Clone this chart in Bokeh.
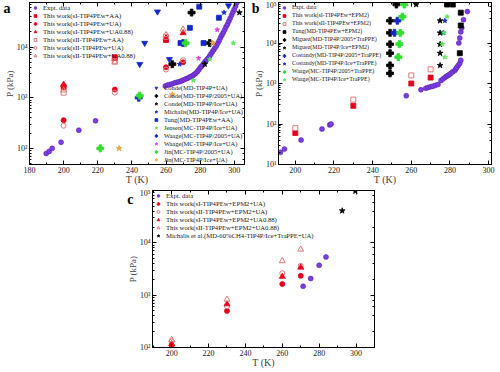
from bokeh.plotting import figure
from bokeh.models import (Legend, LegendItem, LogAxis, LinearAxis, FixedTicker, CustomJSTickFormatter,
                          Range1d, Spacer, SingleIntervalTicker)
from bokeh.layouts import row, column
from bokeh.embed import file_html
from bokeh.resources import INLINE

FONT = "Liberation Serif"

# ---------------- Panel a data ----------------
a_expt_T = [189.8, 191.5, 193.3, 198.5, 208.9, 218.7,
            259.6, 261.0, 262.3, 263.5, 264.8, 266.0, 267.2, 268.4, 269.5, 270.6, 271.7, 272.7,
            273.7, 274.7, 275.7, 276.6, 277.5, 278.4, 279.2, 280.0, 280.8, 281.6, 282.4, 283.2,
            284.0, 284.8, 285.6, 286.4, 287.2, 288.0, 288.8, 289.6, 290.4, 291.2, 292.0, 292.8,
            293.6, 294.4, 295.2, 296.0, 296.8, 297.6, 298.4, 299.2, 300.0, 300.8, 301.6]
a_expt_P = [79, 87, 100, 132, 229, 350,
            1700, 1780, 1820, 1870, 1950, 2000, 2050, 2100, 2200, 2260, 2360, 2430,
            2550, 2630, 2750, 2900, 3050, 3300, 3550, 3900, 4200, 4500, 4950, 5300,
            5700, 6100, 6700, 7350, 8100, 8900, 9770, 10700, 12000, 13500, 15500, 17400,
            19500, 21900, 25100, 28200, 32400, 37200, 42700, 49000, 56200, 64600, 75900]

a_sI_AA_T = [200, 230, 260]
a_sI_AA_P = [1620, 6300, 13800]
a_sI_UA_T = [200, 230, 260, 270]
a_sI_UA_P = [360, 1450, 4000, 5000]
a_sI_UA088_T = [200, 230, 260, 270]
a_sI_UA088_P = [1820, 5900, 15100, 19000]
a_sII_AA_T = [200, 230, 260]
a_sII_AA_P = [1260, 5250, 16000]
a_sII_UA_T = [200, 230, 260, 270]
a_sII_UA_P = [280, 1260, 3600, 5500]
a_sII_UA088_T = [200, 230, 260, 270]
a_sII_UA088_P = [1400, 5000, 17400, 22500]

a_conde_T = [255.0, 247.5, 244.6, 262.0, 296.6]
a_conde_P = [50000, 12000, 4600, 5750, 66000]
a_conde2005_T = [275.0, 263.7, 285.6]
a_conde2005_P = [48000, 4600, 12000]
a_condeIce_T = [282.7, 303.0]
a_condeIce_P = [4600, 48000]
a_michalis_T = [268.0, 294.0]
a_michalis_P = [4600, 48000]
a_tung_T = [279.5, 274.0, 268.5, 282.0, 291.0]
a_tung_P = [63000, 24000, 12000, 12000, 38000]
a_jensen_T = [276.0, 285.7, 299.4]
a_jensen_P = [2200, 5750, 12000]
a_waage2005_T = [270.0, 244.0]
a_waage2005_P = [12000, 1000]
a_waageIce_T = [290.0, 279.0]
a_waageIce_P = [22000, 6000]
a_jin2005_T = [221.5, 244.6, 271.5]
a_jin2005_P = [100, 1100, 12000]
a_jinIce_T = [287.3, 263.7, 232.5]
a_jinIce_P = [12000, 1150, 100]

# ---------------- Panel b data ----------------
b_expt_T = [192.3, 194.4, 203.0, 213.8, 217.8, 218.5,
            257.4, 265.0, 267.5, 268.7, 270.0, 271.2, 272.5, 273.8, 275.4, 276.4, 277.4, 278.2,
            279.0, 279.8, 280.5, 281.5, 282.6, 283.1, 283.6, 284.3, 285.1, 285.6,
            284.6, 285.1, 285.6, 286.1, 287.0, 289.0]
b_expt_P = [20, 24, 40, 75, 95, 100,
            500, 700, 760, 800, 830, 860, 900, 940, 1190, 1300, 1410, 1500,
            1580, 1680, 1780, 1950, 2110, 2300, 2510, 2800, 3160, 3760,
            10000, 13300, 18800, 23700, 37600, 59600]
b_sI_T = [200, 230, 260, 270]
b_sI_P = [60, 282, 1000, 1400]
b_sII_T = [200, 230, 260, 270]
b_sII_P = [79, 400, 1580, 2240]
b_tung_T = [285.6, 285.6, 285.1, 278.5, 281.5]
b_tung_P = [56000, 27000, 5600, 89000, 89000]
b_miguez2005_T = [249.0, 249.0, 249.0, 249.0, 249.0, 249.0, 252.3]
b_miguez2005_P = [35500, 17800, 9300, 5600, 2800, 1780, 89000]
b_miguezIce_T = [274.9, 274.9, 274.9, 274.9, 274.9, 262.5]
b_miguezIce_P = [35500, 17800, 9300, 5600, 2800, 89000]
b_costandy2005_T = [252.8, 251.3]
b_costandy2005_P = [35500, 17800]
b_costandyIce_T = [277.4, 276.5]
b_costandyIce_P = [35500, 17800]
b_waage2005_T = [255.4, 254.3, 253.8, 253.3, 256.4]
b_waage2005_P = [44700, 17800, 9400, 4470, 89000]
b_waageIce_T = [278.5, 277.0, 276.0, 277.4]
b_waageIce_P = [44700, 17800, 9400, 4470]

# ---------------- Panel c data ----------------
c_expt_T = [271.3, 275.4, 280.0, 283.7]
c_expt_P = [1480, 2080, 3720, 5370]
c_sI_UA_T = [200, 230, 260, 270]
c_sI_UA_P = [110, 500, 1630, 2340]
c_sII_UA_T = [200, 230, 260, 270]
c_sII_UA_P = [131, 615, 2630, 3630]
c_sI_UA088_T = [200, 230, 260, 270]
c_sI_UA088_P = [117, 675, 2260, 3390]
c_sII_UA088_T = [200, 230, 260, 270]
c_sII_UA088_P = [141, 830, 4500, 7500]
c_michalis_T = [292.5, 299.6]
c_michalis_P = [41000, 97000]

RED = "#E3001B"
PINK = "#E07878"
PURPLE = "#7E3CE6"
PURPLE_D = "#4B1C9A"
BLUE = "#1428C8"
GREEN = "#2EE02E"
LGREEN = "#5CE65C"
MAGENTA = "#E03CE0"
ORANGE = "#F2A040"

SUP_CODE = """
const e = Math.round(Math.log10(tick));
const sup = {"0":"\\u2070","1":"\\u00b9","2":"\\u00b2","3":"\\u00b3","4":"\\u2074","5":"\\u2075","6":"\\u2076","7":"\\u2077","8":"\\u2078","9":"\\u2079","-":"\\u207b"};
return "10" + String(e).split("").map(c => sup[c]).join("");
"""


def style_axis(ax, label_size, label_standoff):
    ax.major_tick_in = 4
    ax.major_tick_out = 0
    ax.minor_tick_in = 2
    ax.minor_tick_out = 0
    ax.axis_line_color = "black"
    ax.major_tick_line_color = "black"
    ax.minor_tick_line_color = "black"
    ax.major_label_text_font = FONT
    ax.major_label_text_font_size = "8px"
    ax.major_label_text_color = "#222222"
    ax.major_label_standoff = 2
    ax.axis_label_text_font = FONT
    ax.axis_label_text_font_style = "normal"
    ax.axis_label_text_font_size = label_size
    ax.axis_label_standoff = label_standoff


def mirror_axis(ax):
    ax.major_tick_in = 4
    ax.major_tick_out = 0
    ax.minor_tick_in = 2
    ax.minor_tick_out = 0
    ax.axis_line_color = "black"
    ax.major_tick_line_color = "black"
    ax.minor_tick_line_color = "black"
    ax.major_label_standoff = 0
    ax.major_label_text_font_size = "1px"


def make_fig(width, height, xr, yr, mbl, mbr, mbt, mbb, letter, letter_at):
    p = figure(width=width, height=height, x_range=Range1d(*xr), y_range=Range1d(*yr),
               y_axis_type="log", output_backend="svg", toolbar_location=None,
               min_border_left=mbl, min_border_right=mbr, min_border_top=mbt, min_border_bottom=mbb)
    p.grid.visible = False
    p.outline_line_color = "black"
    p.outline_line_width = 1
    p.xaxis.ticker = SingleIntervalTicker(interval=20, num_minor_ticks=2)
    p.yaxis.formatter = CustomJSTickFormatter(code=SUP_CODE)
    p.xaxis.axis_label = "T (K)"
    p.yaxis.axis_label = "P (kPa)"
    for ax in p.xaxis:
        style_axis(ax, "10px", -2)
    for ax in p.yaxis:
        style_axis(ax, "9px", -1)
    # inward ticks on the top and right sides of the box, without labels
    top = LinearAxis(ticker=SingleIntervalTicker(interval=20, num_minor_ticks=2),
                     formatter=CustomJSTickFormatter(code="return '';"))
    mirror_axis(top)
    p.add_layout(top, "above")
    right = LogAxis(formatter=CustomJSTickFormatter(code="return '';"))
    mirror_axis(right)
    p.add_layout(right, "right")
    # panel letter drawn as the single label of an outer, line-less axis
    lax = LogAxis(ticker=FixedTicker(ticks=[letter_at], minor_ticks=[]),
                  formatter=CustomJSTickFormatter(code="return '%s';" % letter))
    lax.axis_line_color = None
    lax.major_tick_line_color = None
    lax.minor_tick_line_color = None
    lax.major_tick_in = 0
    lax.major_tick_out = 0
    lax.minor_tick_in = 0
    lax.minor_tick_out = 0
    lax.major_label_standoff = -9
    lax.major_label_text_font = FONT
    lax.major_label_text_font_style = "bold"
    lax.major_label_text_font_size = "14px"
    lax.major_label_text_color = "black"
    p.add_layout(lax, "left")
    return p


def sc(p, x, y, marker, size, fill, line, lw=0.8, falpha=1.0):
    return p.scatter(x, y, marker=marker, size=size, fill_color=fill, line_color=line,
                     line_width=lw, fill_alpha=falpha)


def legend(p, items, loc, fs):
    lg = Legend(items=[LegendItem(label=t, renderers=[r]) for t, r in items], location=loc,
                label_text_font=FONT, label_text_font_size=fs, label_text_color="#222222",
                glyph_width=10, glyph_height=7, label_height=8, spacing=0, padding=1,
                margin=1, label_standoff=3, border_line_color=None, background_fill_alpha=0)
    p.add_layout(lg, "center")


# ---------------- Panel a ----------------
pa = make_fig(248, 188, (180, 306), (48, 76000), 24, 4, 2, 24, "a", 60000)
ra = [
    ("Expt. data", sc(pa, a_expt_T, a_expt_P, "circle", 5, PURPLE, PURPLE_D, 0.5)),
    ("This work(sI-TIP4PEw+AA)", sc(pa, a_sI_AA_T, a_sI_AA_P, "square", 5, RED, RED)),
    ("This work(sI-TIP4PEw+UA)", sc(pa, a_sI_UA_T, a_sI_UA_P, "circle", 5, RED, RED)),
    ("This work(sI-TIP4PEw+UA0.88)", sc(pa, a_sI_UA088_T, a_sI_UA088_P, "triangle", 6, RED, RED)),
    ("This work(sII-TIP4PEw+AA)", sc(pa, a_sII_AA_T, a_sII_AA_P, "square", 5, "white", PINK, 1, 0)),
    ("This work(sII-TIP4PEw+UA)", sc(pa, a_sII_UA_T, a_sII_UA_P, "circle", 5, "white", PINK, 1, 0)),
    ("This work(sII-TIP4PEw+UA0.88)", sc(pa, a_sII_UA088_T, a_sII_UA088_P, "triangle", 6, "white", PINK, 1, 0)),
]
rb = [
    ("Conde(MD-TIP4P+UA)", sc(pa, a_conde_T, a_conde_P, "inverted_triangle", 6, BLUE, BLUE)),
    ("Conde(MD-TIP4P/2005+UA)", sc(pa, a_conde2005_T, a_conde2005_P, "plus", 7, "black", "black")),
    ("Conde(MD-TIP4P/Ice+UA)", sc(pa, a_condeIce_T, a_condeIce_P, "star", 6, "black", "black")),
    ("Michalis(MD-TIP4P/Ice+UA)", sc(pa, a_michalis_T, a_michalis_P, "star", 5, BLUE, BLUE)),
    ("Tung(MD-TIP4PEw+AA)", sc(pa, a_tung_T, a_tung_P, "square", 5, BLUE, BLUE)),
    ("Jensen(MC-TIP4P/Ice+UA)", sc(pa, a_jensen_T, a_jensen_P, "star", 5, LGREEN, LGREEN)),
    ("Waage(MC-TIP4P/2005+UA)", sc(pa, a_waage2005_T, a_waage2005_P, "plus", 7, BLUE, BLUE)),
    ("Waage(MC-TIP4P/Ice+UA)", sc(pa, a_waageIce_T, a_waageIce_P, "star", 5, MAGENTA, MAGENTA)),
    ("Jin(MC-TIP4P/2005+UA)", sc(pa, a_jin2005_T, a_jin2005_P, "plus", 7, GREEN, GREEN)),
    ("Jin(MC-TIP4P/Ice+UA)", sc(pa, a_jinIce_T, a_jinIce_P, "star", 6, ORANGE, ORANGE)),
]
legend(pa, ra, "top_left", "6.7px")
legend(pa, rb, "bottom_right", "6.5px")

# ---------------- Panel b ----------------
pb = make_fig(248, 188, (191.3, 301.5), (10, 100000), 27, 5, 2, 24, "b", 75000)
rbb = [
    ("Expt. data", sc(pb, b_expt_T, b_expt_P, "circle", 5, PURPLE, PURPLE_D, 0.5)),
    ("This work(sI-TIP4PEw+EPM2)", sc(pb, b_sI_T, b_sI_P, "square", 5, RED, RED)),
    ("This work(sII-TIP4PEw+EPM2)", sc(pb, b_sII_T, b_sII_P, "square", 5, "white", PINK, 1, 0)),
    ("Tung(MD-TIP4PEw+EPM2)", sc(pb, b_tung_T, b_tung_P, "square", 5, "black", "black")),
    ("Miguez(MD-TIP4P/2005+TraPPE)", sc(pb, b_miguez2005_T, b_miguez2005_P, "plus", 7, "black", "black")),
    ("Miguez(MD-TIP4P/Ice+EPM2)", sc(pb, b_miguezIce_T, b_miguezIce_P, "star", 6, "black", "black")),
    ("Costandy(MD-TIP4P/2005+TraPPE)", sc(pb, b_costandy2005_T, b_costandy2005_P, "plus", 7, BLUE, BLUE)),
    ("Costandy(MD-TIP4P/Ice+TraPPE)", sc(pb, b_costandyIce_T, b_costandyIce_P, "star", 5, BLUE, BLUE)),
    ("Waage(MC-TIP4P/2005+TraPPE)", sc(pb, b_waage2005_T, b_waage2005_P, "plus", 7, GREEN, GREEN)),
    ("Waage(MC-TIP4P/Ice+TraPPE)", sc(pb, b_waageIce_T, b_waageIce_P, "star", 5, LGREEN, LGREEN)),
]
legend(pb, rbb, "top_left", "6px")

# ---------------- Panel c ----------------
pc = make_fig(254, 183, (189.6, 310), (100, 100000), 24, 4, 2, 24, "c", 90000)
rc = [
    ("Expt. data", sc(pc, c_expt_T, c_expt_P, "circle", 5, PURPLE, PURPLE_D, 0.5)),
    ("This work(sI-TIP4PEw+EPM2+UA)", sc(pc, c_sI_UA_T, c_sI_UA_P, "circle", 5, RED, RED)),
    ("This work(sII-TIP4PEw+EPM2+UA)", sc(pc, c_sII_UA_T, c_sII_UA_P, "circle", 5, "white", PINK, 1, 0)),
    ("This work(sI-TIP4PEw+EPM2+UA0.88)", sc(pc, c_sI_UA088_T, c_sI_UA088_P, "triangle", 6, RED, RED)),
    ("This work(sII-TIP4PEw+EPM2+UA0.88)", sc(pc, c_sII_UA088_T, c_sII_UA088_P, "triangle", 6, "white", PINK, 1, 0)),
    ("Michalis et al.(MD-60%CH4-TIP4P/Ice+TraPPE+UA)", sc(pc, c_michalis_T, c_michalis_P, "star", 6, "black", "black")),
]
legend(pc, rc, "top_left", "6.7px")

layout = column(row(pa, pb), row(Spacer(width=124, height=183), pc))
open("out.html", "w").write(file_html(layout, INLINE))
